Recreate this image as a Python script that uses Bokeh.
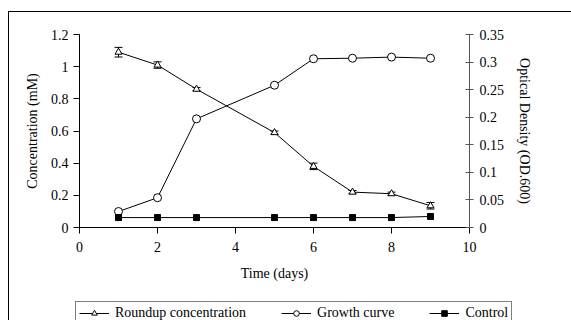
from bokeh.plotting import figure
from bokeh.models import (Range1d, LinearAxis, FixedTicker, CustomJSTickFormatter,
                          Legend, LegendItem, Whisker, ColumnDataSource)
from bokeh.embed import file_html
from bokeh.resources import INLINE

# ---- data ----
days = [1, 2, 3, 5, 6, 7, 8, 9]
roundup_mM = [1.09, 1.01, 0.86, 0.59, 0.38, 0.22, 0.21, 0.135]
roundup_err = [0.03, 0.02, 0.01, 0.01, 0.02, 0.01, 0.01, 0.02]
growth_od = [0.029, 0.054, 0.197, 0.258, 0.306, 0.307, 0.309, 0.307]
control_od = [0.018, 0.018, 0.018, 0.018, 0.018, 0.018, 0.018, 0.020]

series_names = ["Roundup concentration", "Growth curve", "Control"]

x_ticks = [0, 2, 4, 6, 8, 10]
left_ticks = [0, 0.2, 0.4, 0.6, 0.8, 1.0, 1.2]
right_ticks = [0, 0.05, 0.1, 0.15, 0.2, 0.25, 0.3, 0.35]

FONT = "Liberation Serif"
FS = "14px"

src_r = ColumnDataSource(dict(x=days, y=roundup_mM,
                              lo=[v - e for v, e in zip(roundup_mM, roundup_err)],
                              hi=[v + e for v, e in zip(roundup_mM, roundup_err)]))
src_g = ColumnDataSource(dict(x=days, y=growth_od))
src_c = ColumnDataSource(dict(x=days, y=control_od))

# ---- main chart ----
p = figure(width=562, height=289, frame_width=390, frame_height=193,
           output_backend="svg", toolbar_location=None,
           x_range=Range1d(0, 10), y_range=Range1d(0, 1.2),
           min_border_left=70, min_border_right=102, min_border_top=22, min_border_bottom=74)
p.styles = {"margin-left": "8px", "margin-top": "11px",
            "border-top": "1px solid black", "border-left": "1px solid black"}
p.outline_line_color = None
p.xgrid.grid_line_color = None
p.ygrid.grid_line_color = None
p.background_fill_color = "white"
p.border_fill_color = "white"

p.extra_y_ranges = {"od": Range1d(0, 0.35)}

fmt = CustomJSTickFormatter(code="return String(tick);")

xa = p.xaxis[0]
xa.ticker = FixedTicker(ticks=x_ticks)
xa.formatter = fmt
xa.axis_label = "Time (days)"
ya = p.yaxis[0]
ya.ticker = FixedTicker(ticks=left_ticks)
ya.formatter = fmt
ya.axis_label = "Concentration (mM)"

ra = LinearAxis(y_range_name="od", axis_label="Optical Density (OD.600)")
ra.ticker = FixedTicker(ticks=right_ticks)
ra.formatter = fmt
p.add_layout(ra, "right")

for ax in (xa, ya, ra):
    ax.minor_tick_line_color = None
    ax.major_label_text_font = FONT
    ax.major_label_text_font_size = FS
    ax.axis_label_text_font = FONT
    ax.axis_label_text_font_size = FS
    ax.axis_label_text_font_style = "normal"
    ax.major_label_text_color = "black"
    ax.axis_label_text_color = "black"

xa.major_tick_in = 0
xa.major_tick_out = 6
xa.major_label_standoff = 8
xa.axis_label_standoff = 11
ya.major_tick_in = 0
ya.major_tick_out = 6
ya.major_label_standoff = 5
ya.axis_label_standoff = 8
ra.major_tick_in = 4
ra.major_tick_out = 4
ra.major_label_standoff = 6
ra.axis_label_standoff = 10
ra.axis_line_color = "#555555"
ra.major_tick_line_color = "#555555"

# Roundup concentration
p.line("x", "y", source=src_r, line_color="black", line_width=1)
w = Whisker(base="x", lower="lo", upper="hi", source=src_r, line_color="black", line_width=1)
w.upper_head.size = 8
w.lower_head.size = 8
p.add_layout(w)
p.scatter("x", "y", source=src_r, marker="triangle", size=7,
          fill_color="white", line_color="black", line_width=1)

# Growth curve
p.line("x", "y", source=src_g, y_range_name="od", line_color="black", line_width=1)
p.scatter("x", "y", source=src_g, y_range_name="od", marker="circle", size=8,
          fill_color="white", line_color="black", line_width=1)

# Control
p.line("x", "y", source=src_c, y_range_name="od", line_color="black", line_width=1)
p.scatter("x", "y", source=src_c, y_range_name="od", marker="square", size=6,
          fill_color="black", line_color="black")

# ---- legend strip: separate small figure; its data lies outside its ranges ----
q = figure(width=562, height=19, output_backend="svg", toolbar_location=None,
           x_range=Range1d(-100, -90), y_range=Range1d(-100, -90),
           x_axis_location=None, y_axis_location=None,
           min_border_left=0, min_border_right=0, min_border_top=0, min_border_bottom=0)
q.styles = {"margin-left": "8px", "border-left": "1px solid black"}
q.outline_line_color = None
q.xgrid.grid_line_color = None
q.ygrid.grid_line_color = None
q.border_fill_color = "white"
q.background_fill_color = "white"

lr = q.line("x", "y", source=src_r, line_color="black", line_width=1)
sr = q.scatter("x", "y", source=src_r, marker="triangle", size=7,
               fill_color="white", line_color="black")
lg = q.line("x", "y", source=src_g, line_color="black", line_width=1)
sg = q.scatter("x", "y", source=src_g, marker="circle", size=8,
               fill_color="white", line_color="black")
lc = q.line("x", "y", source=src_c, line_color="black", line_width=1)
sc = q.scatter("x", "y", source=src_c, marker="square", size=6,
               fill_color="black", line_color="black")

legend = Legend(items=[
    LegendItem(label=series_names[0], renderers=[lr, sr]),
    LegendItem(label=series_names[1], renderers=[lg, sg]),
    LegendItem(label=series_names[2], renderers=[lc, sc]),
], orientation="horizontal", location=(66, -5))
legend.label_text_font = FONT
legend.label_text_font_size = FS
legend.label_text_color = "black"
legend.border_line_color = "black"
legend.border_line_width = 1
legend.background_fill_color = "white"
legend.padding = 3
legend.margin = 0
legend.spacing = 35
legend.glyph_width = 30
legend.glyph_height = 14
legend.label_height = 14
legend.label_standoff = 6
q.add_layout(legend, "center")

open("out.html", "w").write(file_html([p, q], INLINE))
